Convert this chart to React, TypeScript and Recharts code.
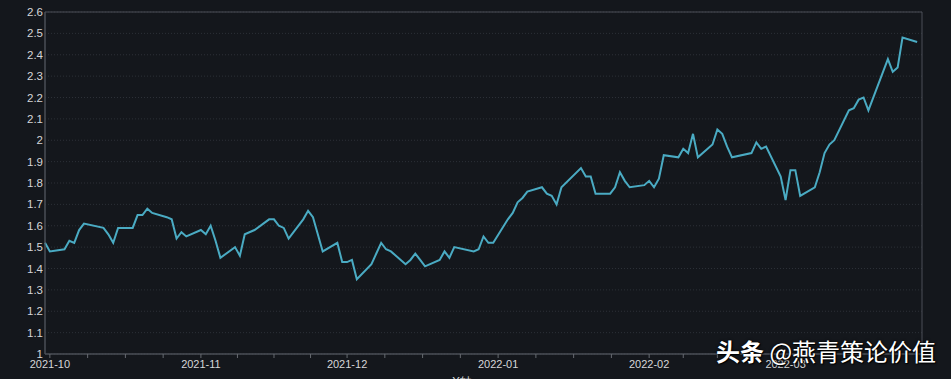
import { LineChart, Line, XAxis, YAxis, CartesianGrid, ReferenceArea } from "recharts";

// US 10y yield, daily closes
const DATES = [
  "2021-09-30", "2021-10-01", "2021-10-04", "2021-10-05", "2021-10-06", "2021-10-07", "2021-10-08",
  "2021-10-12", "2021-10-13", "2021-10-14", "2021-10-15", "2021-10-18", "2021-10-19", "2021-10-20",
  "2021-10-21", "2021-10-22", "2021-10-25", "2021-10-26", "2021-10-27", "2021-10-28", "2021-10-29",
  "2021-11-01", "2021-11-02", "2021-11-03", "2021-11-04", "2021-11-05", "2021-11-08", "2021-11-09",
  "2021-11-10", "2021-11-12", "2021-11-15", "2021-11-16", "2021-11-17", "2021-11-18", "2021-11-19",
  "2021-11-22", "2021-11-23", "2021-11-24", "2021-11-26", "2021-11-29", "2021-11-30", "2021-12-01",
  "2021-12-02", "2021-12-03", "2021-12-06", "2021-12-07", "2021-12-08", "2021-12-09", "2021-12-10",
  "2021-12-13", "2021-12-14", "2021-12-15", "2021-12-16", "2021-12-17", "2021-12-20", "2021-12-21",
  "2021-12-22", "2021-12-23", "2021-12-27", "2021-12-28", "2021-12-29", "2021-12-30", "2021-12-31",
  "2022-01-03", "2022-01-04", "2022-01-05", "2022-01-06", "2022-01-07", "2022-01-10", "2022-01-11",
  "2022-01-12", "2022-01-13", "2022-01-14", "2022-01-18", "2022-01-19", "2022-01-20", "2022-01-21",
  "2022-01-24", "2022-01-25", "2022-01-26", "2022-01-27", "2022-01-28", "2022-01-31", "2022-02-01",
  "2022-02-02", "2022-02-03", "2022-02-04", "2022-02-07", "2022-02-08", "2022-02-09", "2022-02-10",
  "2022-02-11", "2022-02-14", "2022-02-15", "2022-02-16", "2022-02-17", "2022-02-18", "2022-02-22",
  "2022-02-23", "2022-02-24", "2022-02-25", "2022-02-28", "2022-03-01", "2022-03-02", "2022-03-03",
  "2022-03-04", "2022-03-07", "2022-03-08", "2022-03-09", "2022-03-10", "2022-03-11", "2022-03-14",
  "2022-03-15", "2022-03-16", "2022-03-17", "2022-03-18", "2022-03-21", "2022-03-22", "2022-03-23",
  "2022-03-24", "2022-03-25", "2022-03-28",
];

const YIELDS = [
  1.52, 1.48, 1.49, 1.53, 1.52, 1.58, 1.61,
  1.59, 1.56, 1.52, 1.59, 1.59, 1.65, 1.65,
  1.68, 1.66, 1.64, 1.63, 1.54, 1.57, 1.55,
  1.58, 1.56, 1.6, 1.53, 1.45, 1.5, 1.46,
  1.56, 1.58, 1.63, 1.63, 1.6, 1.59, 1.54,
  1.63, 1.67, 1.64, 1.48, 1.52, 1.43, 1.43,
  1.44, 1.35, 1.42, 1.47, 1.52, 1.49, 1.48,
  1.42, 1.44, 1.47, 1.44, 1.41, 1.44, 1.48,
  1.45, 1.5, 1.48, 1.49, 1.55, 1.52, 1.52,
  1.63, 1.66, 1.71, 1.73, 1.76, 1.78, 1.75,
  1.74, 1.7, 1.78, 1.87, 1.83, 1.83, 1.75,
  1.75, 1.78, 1.85, 1.81, 1.78, 1.79, 1.81,
  1.78, 1.82, 1.93, 1.92, 1.96, 1.94, 2.03,
  1.92, 1.98, 2.05, 2.03, 1.97, 1.92, 1.94,
  1.99, 1.96, 1.97, 1.83, 1.72, 1.86, 1.86,
  1.74, 1.78, 1.85, 1.94, 1.98, 2.0, 2.14,
  2.15, 2.19, 2.2, 2.14, 2.32, 2.38, 2.32,
  2.34, 2.48, 2.46,
];

const Y_TICKS = [1, 1.1, 1.2, 1.3, 1.4, 1.5, 1.6, 1.7, 1.8, 1.9, 2, 2.1, 2.2, 2.3, 2.4, 2.5, 2.6];
const MONTH_STARTS = ["2021-10-01", "2021-11-01", "2021-12-01", "2022-01-01", "2022-02-01", "2022-03-01", "2022-04-01"];
const X_RANGE = ["2021-09-30", "2022-03-29"];

const toTs = (s: string) => Date.parse(s + "T00:00:00Z");

const data = DATES.map((d, i) => ({ t: toTs(d), v: YIELDS[i] }));
const domain = [toTs(X_RANGE[0]), toTs(X_RANGE[1])];

// month label + 3 minor ticks per month
const xTicks: number[] = [];
for (let i = 0; i < MONTH_STARTS.length - 1; i++) {
  const a = toTs(MONTH_STARTS[i]);
  const b = toTs(MONTH_STARTS[i + 1]);
  for (let k = 0; k < 4; k++) {
    const t = a + ((b - a) * k) / 4;
    if (t >= domain[0] && t <= domain[1]) xTicks.push(t);
  }
}

const fmtMonth = (v: number) => {
  const d = new Date(v);
  if (d.getUTCDate() !== 1 || d.getUTCHours() !== 0) return "";
  return `${d.getUTCFullYear()}-${String(d.getUTCMonth() + 1).padStart(2, "0")}`;
};

const BG = "#14171c";
const AXIS = "#4b4f56";

export default function App() {
  return (
    <div
      style={{
        position: "fixed",
        left: 0,
        top: 0,
        width: 951,
        height: 379,
        background: BG,
        overflow: "hidden",
        fontFamily: "'Liberation Sans', Arial, sans-serif",
      }}
    >
      <LineChart width={951} height={379} data={data} margin={{ top: 12, right: 29, left: 0, bottom: 0 }}>
        <CartesianGrid vertical={false} stroke="#2c3037" strokeDasharray="1 2" />
        <XAxis
          dataKey="t"
          type="number"
          domain={domain}
          ticks={xTicks}
          interval={0}
          tickFormatter={fmtMonth}
          height={25}
          tickSize={4}
          tickMargin={2}
          stroke={AXIS}
          tickLine={{ stroke: "#666a70" }}
          tick={{ fontSize: 11, fill: "#d4d6d8" }}
        />
        <YAxis
          domain={[1, 2.6]}
          ticks={Y_TICKS}
          interval={0}
          width={45}
          tickSize={0}
          tickMargin={2}
          stroke={AXIS}
          tick={{ fontSize: 11.5, fill: "#d4d6d8" }}
        />
        <ReferenceArea x1={domain[0]} x2={domain[1]} y1={1} y2={2.6} fill="none" stroke={AXIS} />
        <Line
          type="linear"
          dataKey="v"
          stroke="#4aabc3"
          strokeWidth={2}
          dot={false}
          isAnimationActive={false}
        />
      </LineChart>
      <div
        style={{
          position: "absolute",
          left: 452,
          top: 374,
          fontSize: 12,
          color: "#d4d6d8",
        }}
      >
        X轴
      </div>
      <div
        style={{
          position: "absolute",
          left: 716,
          top: 337,
          fontSize: 24,
          lineHeight: "28px",
          color: "#ffffff",
          whiteSpace: "nowrap",
          fontFamily: "'Noto Sans CJK SC', sans-serif",
          textShadow: "1px 1px 1px #000, 0 0 3px #000",
        }}
      >
        <span style={{ fontWeight: 700 }}>头条</span> @燕青策论价值
      </div>
    </div>
  );
}
